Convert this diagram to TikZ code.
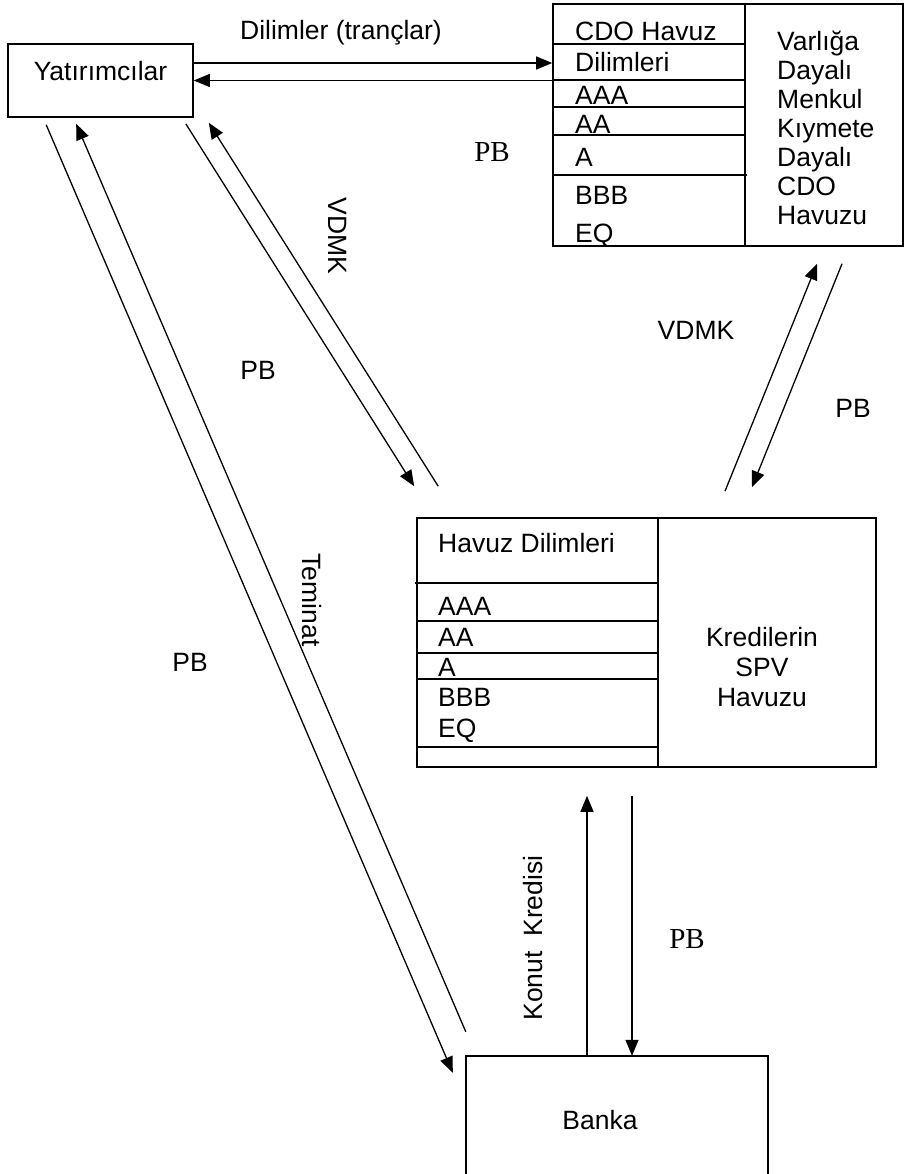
\documentclass[tikz,border=0pt]{standalone}
\usepackage{fontspec}
\setmainfont{Liberation Sans}
\newfontfamily\serifpb{Liberation Serif}
\usetikzlibrary{arrows.meta,positioning}
\tikzset{
  box/.style={rectangle, draw, line width=1.6pt, inner sep=0pt},
  txt/.style={inner sep=0pt, anchor=base, font=\fontsize{26.5}{29}\selectfont},
  tnr/.style={inner sep=0pt, anchor=base, font=\serifpb\fontsize{29}{32}\selectfont},
  rowline/.style={line width=1.4pt},
  arr/.style={-{Triangle[length=16pt,width=13pt]}, line width=1.3pt},
}

\begin{document}
\begin{tikzpicture}[x=1pt, y=-1pt]
  \useasboundingbox (0,0) rectangle (904,1174);

  % boxes
  \node[box, minimum width=185pt, minimum height=73pt] (yat) at (100.5,80.5) {};
  \node[txt] (yattxt) at (yat.center) {Yatırımcılar};

  \node[box, minimum width=350pt, minimum height=242pt] (cdo) at (728,125) {};
  \draw[rowline] (745,4) -- (745,246);
  \draw[rowline] (553,44) -- (745,44);
  \draw[rowline] (553,80) -- (745,80);
  \draw[rowline] (553,107) -- (745,107);
  \draw[rowline] (553,135) -- (745,135);
  \draw[rowline] (553,175) -- (747,175);
  \node[txt, anchor=base west] (c1) at (575,40.5) {CDO Havuz};
  \node[txt, anchor=base west] (c2) at (575,71.5) {Dilimleri};
  \node[txt, anchor=base west] (c3) at (575,104.5) {AAA};
  \node[txt, anchor=base west] (c4) at (575,133.5) {AA};
  \node[txt, anchor=base west] (c5) at (575,166.5) {A};
  \node[txt, anchor=base west] (c6) at (575,204.5) {BBB};
  \node[txt, anchor=base west] (c7) at (575,242.5) {EQ};
  \node[txt, anchor=west, align=left] (cdotxt) at (777,128)
    {Varlığa\\Dayalı\\Menkul\\Kıymete\\Dayalı\\CDO\\Havuzu};

  \node[box, minimum width=459pt, minimum height=249pt] (havuz) at (646.5,642.5) {};
  \draw[rowline] (658,518) -- (658,767);
  \draw[rowline] (415,583) -- (658,583);
  \draw[rowline] (417,621) -- (658,621);
  \draw[rowline] (417,653) -- (658,653);
  \draw[rowline] (417,679) -- (658,679);
  \draw[rowline] (417,747) -- (658,747);
  \node[txt, anchor=base west] (h1) at (438,552.5) {Havuz Dilimleri};
  \node[txt, anchor=base west] (h2) at (438,615.5) {AAA};
  \node[txt, anchor=base west] (h3) at (438,646.5) {AA};
  \node[txt, anchor=base west] (h4) at (438,676.5) {A};
  \node[txt, anchor=base west] (h5) at (438,706.5) {BBB};
  \node[txt, anchor=base west] (h6) at (438,737.5) {EQ};
  \node[txt, anchor=center, align=center, font=\fontsize{26.5}{30}\selectfont]
    (spv) at (762,667) {Kredilerin\\SPV\\Havuzu};

  \node[minimum width=302pt, minimum height=120pt, inner sep=0pt] (banka) at (617,1116) {};
  \draw[line width=1.6pt] (banka.south west) -- (banka.north west)
    -- (banka.north east) -- (banka.south east);
  \node[txt] (bankatxt) at (600,1129.5) {Banka};

  % Yatirimcilar <-> CDO
  \coordinate (t1) at ([yshift=17.5pt]yat.east);
  \draw[arr] (t1) -- (t1 -| cdo.west);
  \draw[arr] (yat.east -| cdo.west) -- (yat.east);
  \node[txt] (dil) at (341,39.5) {Dilimler (trançlar)};

  % Yatirimcilar <-> Banka
  \draw[arr] ([shift={(39pt,-7pt)}]yat.south west) -- ([shift={(-13pt,-17pt)}]banka.north west);
  \draw[arr] ([yshift=24pt]banka.north west) -- ([shift={(69pt,-6pt)}]yat.south west);

  % Yatirimcilar <-> havuz
  \draw[arr] ([shift={(-8pt,-6pt)}]yat.south east) -- ([shift={(-2pt,31pt)}]havuz.north west);
  \draw[arr] ([shift={(22pt,31pt)}]havuz.north west) -- ([shift={(15pt,-5pt)}]yat.south east);

  % havuz <-> CDO
  \draw[arr] ([shift={(78.5pt,26pt)}]havuz.north) -- ([shift={(89pt,-17pt)}]cdo.south);
  \draw[arr] ([shift={(114pt,-17pt)}]cdo.south) -- ([shift={(105.5pt,30pt)}]havuz.north);

  % Banka <-> havuz
  \coordinate (k1) at ([xshift=-30pt]banka.north);
  \coordinate (k2) at ([xshift=15pt]banka.north);
  \coordinate (hb) at ([yshift=-28pt]havuz.south);
  \draw[arr] (k1) -- (k1 |- hb);
  \draw[arr] (k2 |- hb) -- (k2);

  % labels
  \node[tnr] (pb1) at (492,162) {PB};
  \node[txt, anchor=center, rotate=-90] (vdmk1) at (338,236) {VDMK};
  \node[txt] (pb2) at (258,379.5) {PB};
  \node[txt] (vdmk2) at (696,339.5) {VDMK};
  \node[txt] (pb3) at (853,417.5) {PB};
  \node[txt, anchor=center, rotate=-90] (tem) at (312,600) {Teminat};
  \node[txt] (pb4) at (190,671.5) {PB};
  \node[txt, anchor=center, rotate=90] (konut) at (533,938) {Konut~~Kredisi};
  \node[tnr] (pb5) at (687,948) {PB};
\end{tikzpicture}
\end{document}
